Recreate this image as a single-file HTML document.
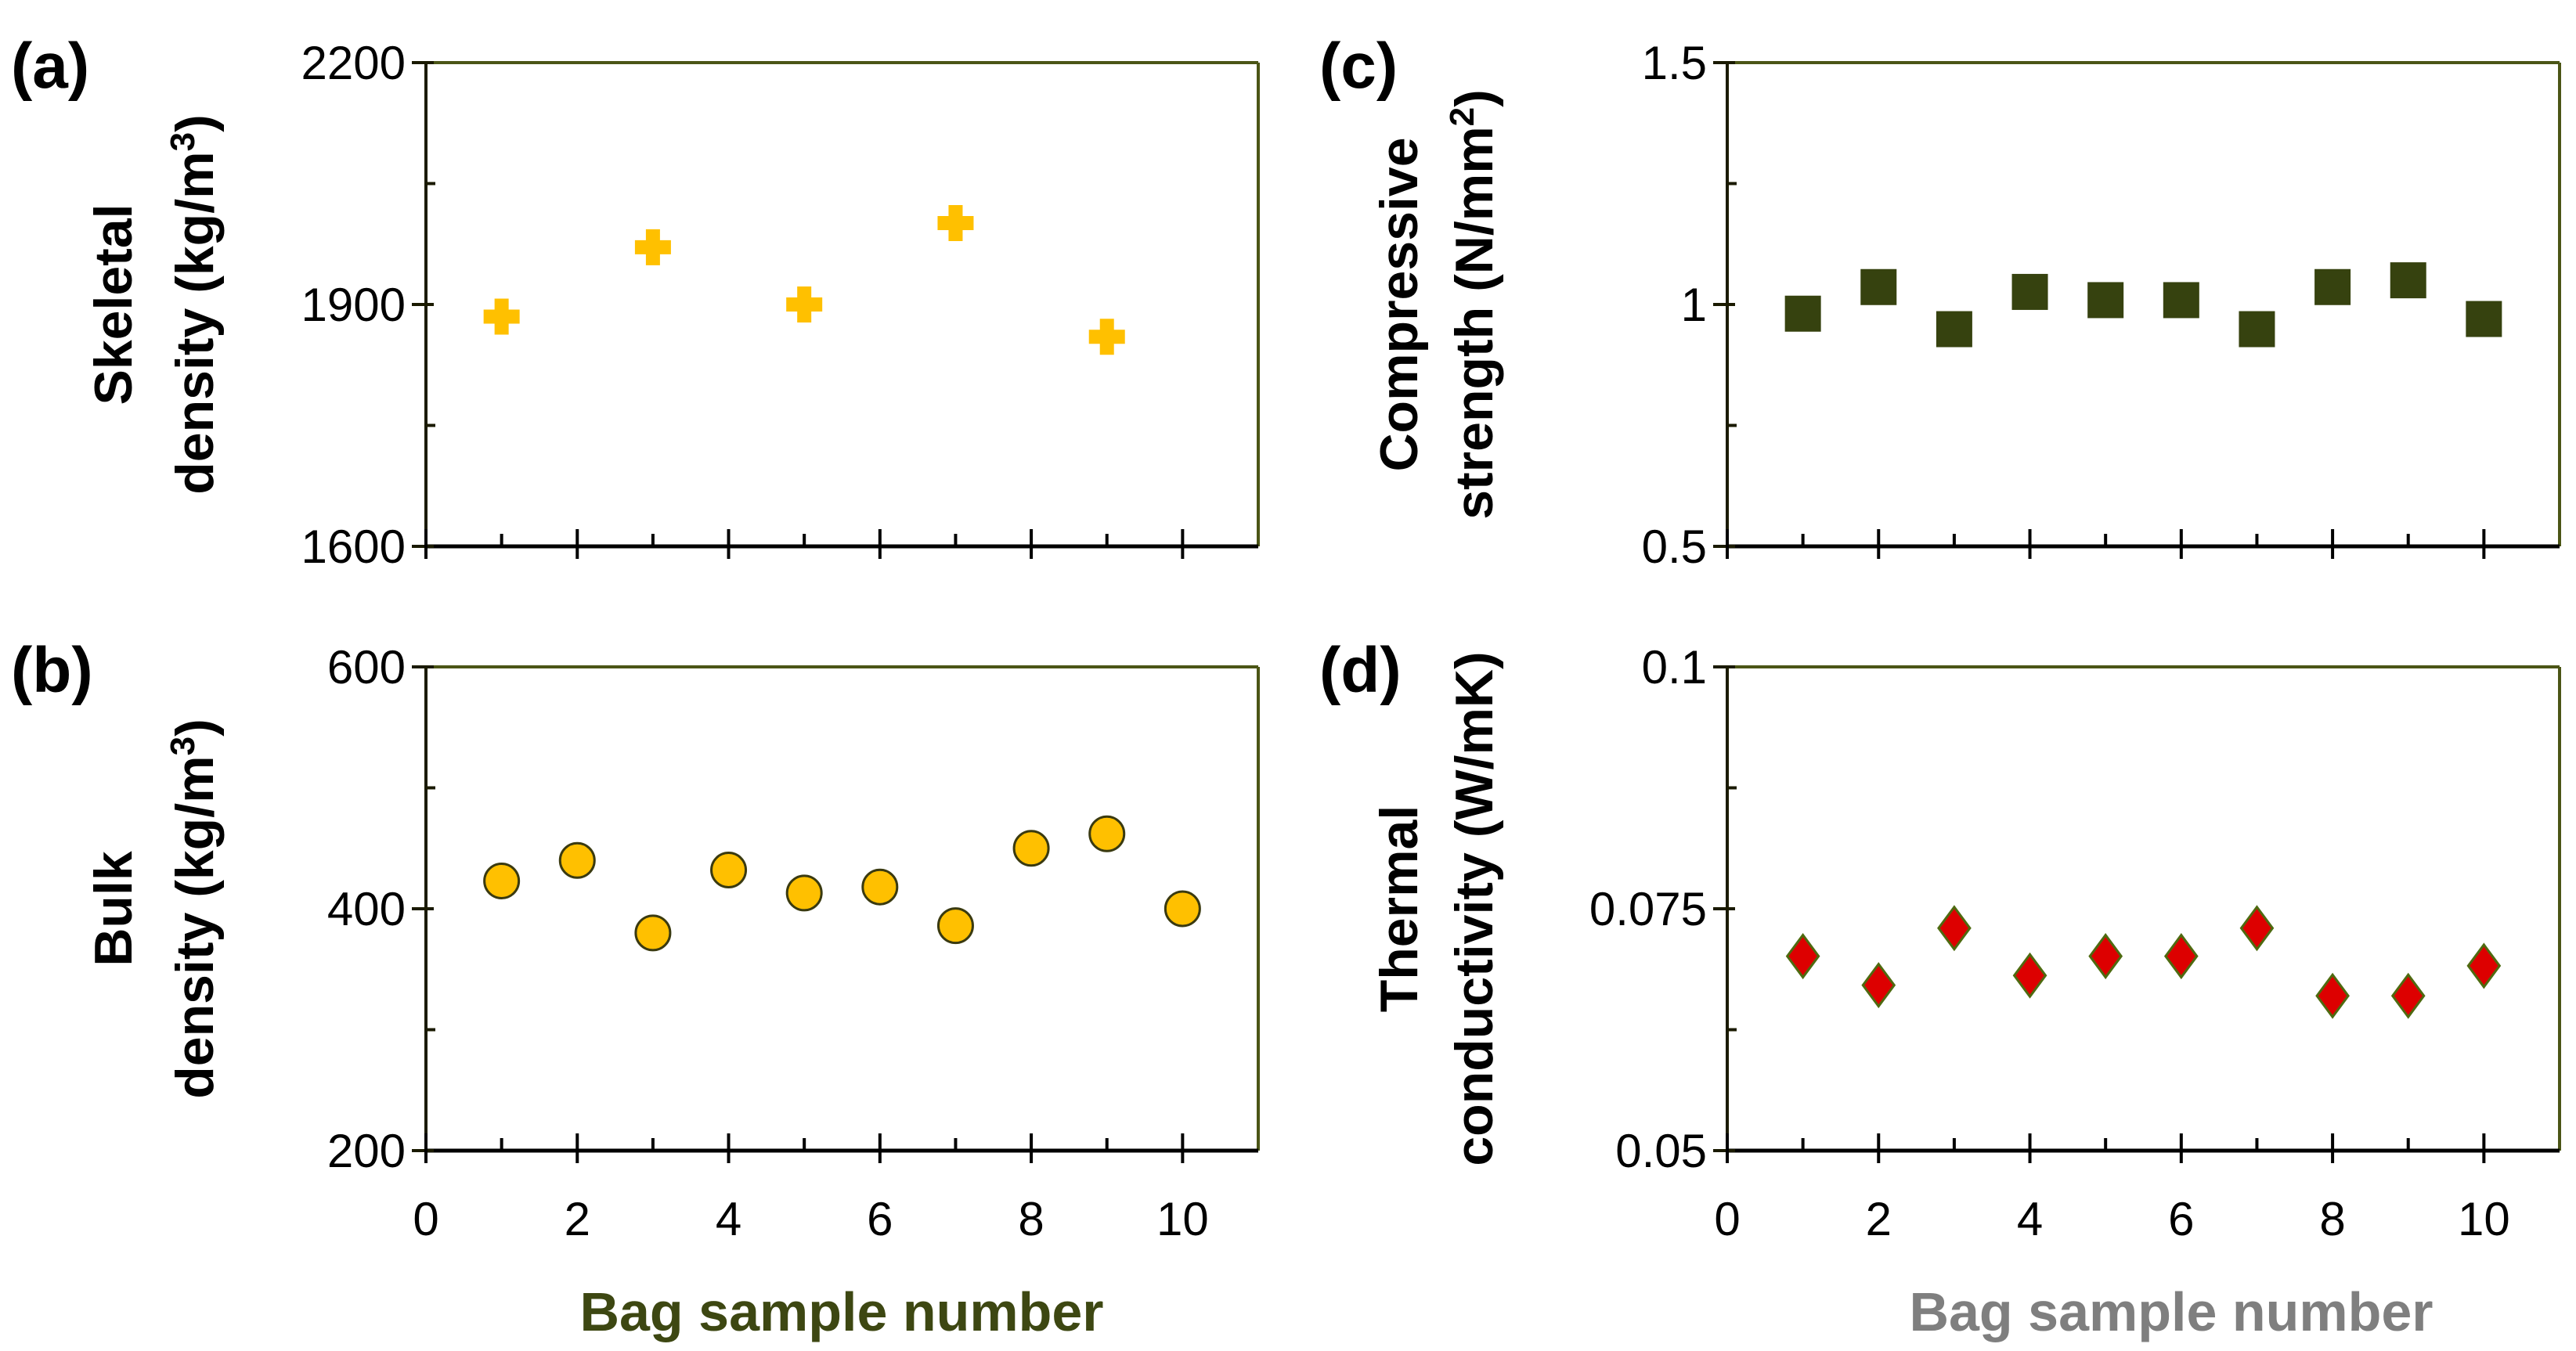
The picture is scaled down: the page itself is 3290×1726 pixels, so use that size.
<!DOCTYPE html>
<html><head><meta charset="utf-8"><style>
html,body{margin:0;padding:0;background:#fff}
svg{display:block}
.tk{font-family:"Liberation Sans Narrow","Liberation Sans",sans-serif;font-size:60px;fill:#000}
.ti{font-family:"Liberation Sans",sans-serif;font-weight:bold;font-size:68px;fill:#000}
.lt{font-family:"Liberation Sans",sans-serif;font-weight:bold;font-size:82px;fill:#000}
</style></head><body>
<svg id="fig" width="3290" height="1726" viewBox="0 0 3290 1726" xmlns="http://www.w3.org/2000/svg">
<text class="lt" x="14" y="112">(a)</text>
<text class="lt" x="14" y="884">(b)</text>
<text class="lt" x="1685" y="112">(c)</text>
<text class="lt" x="1685" y="884">(d)</text>
<text class="ti" transform="translate(168,389) rotate(-90)" text-anchor="middle">Skeletal</text>
<text class="ti" transform="translate(272,389) rotate(-90)" text-anchor="middle">density (kg/m<tspan dy="-24" font-size="44">3</tspan><tspan dy="24">)</tspan></text>
<text class="ti" transform="translate(168,1161) rotate(-90)" text-anchor="middle">Bulk</text>
<text class="ti" transform="translate(272,1161) rotate(-90)" text-anchor="middle">density (kg/m<tspan dy="-24" font-size="44">3</tspan><tspan dy="24">)</tspan></text>
<text class="ti" transform="translate(1810,389) rotate(-90)" text-anchor="middle">Compressive</text>
<text class="ti" transform="translate(1906,389) rotate(-90)" text-anchor="middle">strength (N/mm<tspan dy="-24" font-size="44">2</tspan><tspan dy="24">)</tspan></text>
<text class="ti" transform="translate(1810,1161) rotate(-90)" text-anchor="middle">Thermal</text>
<text class="ti" transform="translate(1906,1161) rotate(-90)" text-anchor="middle">conductivity (W/mK)</text>
<text class="ti" x="1075" y="1700" text-anchor="middle" style="fill:#3d4712;font-size:70px">Bag sample number</text>
<text class="ti" x="2773" y="1700" text-anchor="middle" style="fill:#7f7f7f;font-size:70px">Bag sample number</text>
</svg>
<script>
const xs = [1,2,3,4,5,6,7,8,9,10];
const skeletalX = [1,3,5,7,9];
const skeletal = [1885,1971,1900,2001,1860];
const bulk = [423,440,380,432,413,418,386,450,462,400];
const compressive = [0.981,1.036,0.949,1.026,1.009,1.009,0.949,1.036,1.05,0.97];
const thermal = [0.0701,0.0671,0.0730,0.0681,0.0701,0.0701,0.0730,0.0660,0.0660,0.0691];
const ticksA = ["1600","1900","2200"];
const ticksB = ["200","400","600"];
const ticksC = ["0.5","1","1.5"];
const ticksD = ["0.05","0.075","0.1"];
const xTickLabels = ["0","2","4","6","8","10"];

const NS="http://www.w3.org/2000/svg";
const svg=document.getElementById('fig');
function mk(tag,attrs,parent){const e=document.createElementNS(NS,tag);for(const k in attrs)e.setAttribute(k,attrs[k]);(parent||svg).appendChild(e);return e;}

function panel(id,L,R,T,B,ymin,ymax,yt,showX,xsData,ys,marker){
  const g=mk('g',{});
  
  
  const xf=v=>L+(v/11)*(R-L);
  const yf=v=>B-(v-ymin)/(ymax-ymin)*(B-T);
  const ol='#4b5516';
  mk('line',{x1:L,y1:T,x2:R,y2:T,stroke:ol,'stroke-width':4},g);
  mk('line',{x1:R,y1:T,x2:R,y2:B,stroke:ol,'stroke-width':4},g);
  mk('line',{x1:L,y1:T,x2:L,y2:B,stroke:'#1a1a00','stroke-width':4},g);
  mk('line',{x1:L,y1:B,x2:R,y2:B,stroke:'#000','stroke-width':5},g);
  const yv=[ymin,(ymin+ymax)/2,ymax];
  yv.forEach((v,i)=>{
    const y=yf(v);
    mk('line',{x1:L-18,y1:y,x2:L+10,y2:y,stroke:'#1a1a00','stroke-width':4},g);
    const t=mk('text',{x:L-26,y:y+21,'text-anchor':'end',class:'tk'},g);
    t.textContent=yt[i];
    
    
    if(i<2){const ym=yf(v+(ymax-ymin)/4);mk('line',{x1:L,y1:ym,x2:L+12,y2:ym,stroke:'#1a1a00','stroke-width':4},g);}
  });
  for(let k=0;k<=10;k++){
    const x=xf(k);
    if(k%2===0) mk('line',{x1:x,y1:B-22,x2:x,y2:B+16,stroke:'#000','stroke-width':4},g);
    else mk('line',{x1:x,y1:B-16,x2:x,y2:B,stroke:'#000','stroke-width':4},g);
  }
  if(showX){
    xTickLabels.forEach(s=>{
      const t=mk('text',{x:xf(+s),y:B+108,'text-anchor':'middle',class:'tk'},g);
      t.textContent=s;
      
      
    });
  }
  xsData.forEach((xv,i)=>{
    const cx=xf(xv), cy=yf(ys[i]);
    let m;
    if(marker==='plus'){
      m=mk('path',{d:`M${cx-9} ${cy-23}h18v14h14v18h-14v14h-18v-14h-14v-18h14z`,fill:'#ffc000'},g);
    }else if(marker==='circle'){
      m=mk('circle',{cx:cx,cy:cy,r:22,fill:'#ffc000',stroke:'#3a3a10','stroke-width':3},g);
    }else if(marker==='square'){
      m=mk('rect',{x:cx-23,y:cy-23,width:46,height:46,fill:'#36420f'},g);
    }else{
      m=mk('path',{d:`M${cx} ${cy-27}L${cx+20} ${cy}L${cx} ${cy+27}L${cx-20} ${cy}Z`,fill:'#dd0000',stroke:'#4e6a10','stroke-width':3},g);
    }
    
    
  });
}
panel('a',544,1607,80,698,1600,2200,ticksA,false,skeletalX,skeletal,'plus');
panel('b',544,1607,852,1470,200,600,ticksB,true,xs,bulk,'circle');
panel('c',2206,3269,80,698,0.5,1.5,ticksC,false,xs,compressive,'square');
panel('d',2206,3269,852,1470,0.05,0.1,ticksD,true,xs,thermal,'diamond');
</script>
</body></html>
